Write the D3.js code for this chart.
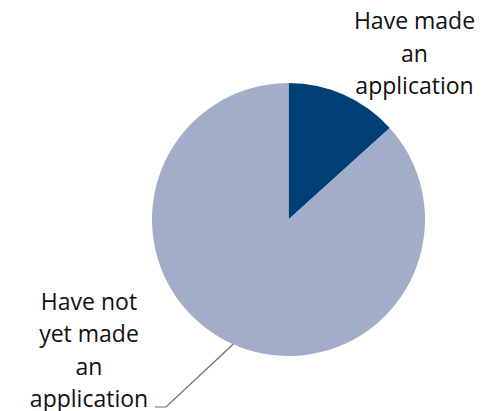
<!DOCTYPE html>
<html>
<head>
<meta charset="utf-8">
<script src="https://cdn.jsdelivr.net/npm/d3@7/dist/d3.min.js"></script>
<style>
  html, body { margin: 0; padding: 0; background: #ffffff; }
  svg { display: block; }
  text { font-family: "Open Sans", "Noto Sans", sans-serif; font-size: 23px; fill: #111111; }
</style>
</head>
<body>
<svg id="chart" width="493" height="411"></svg>
<script>
// Share of respondents by application status (percent)
const categories = ["Have made an application", "Have not yet made an application"];
const values = [13.3, 86.7];
const labelLines = [
  ["Have made", "an", "application"],
  ["Have not", "yet made", "an", "application"]
];
const colors = ["#004077", "#a2adca"];

const svg = d3.select("#chart");
const cx = 288.5, cy = 219.5, radius = 136.5;

const pie = d3.pie().sort(null).value(d => d.value).startAngle(0).endAngle(2 * Math.PI);
const arcs = pie(categories.map((c, i) => ({ name: c, value: values[i] })));
const arc = d3.arc().innerRadius(0).outerRadius(radius);

const g = svg.append("g").attr("transform", `translate(${cx},${cy})`);
g.selectAll("path.slice")
  .data(arcs)
  .join("path")
  .attr("class", "slice")
  .attr("d", arc)
  .attr("fill", (d, i) => colors[i]);

// Label placement (centre x, first baseline y) and leader line elbow for each slice
const lineHeight = 32.5;
const labelPos = [
  { x: 414.5, y: 29, leader: null },
  { x: 89, y: 309.5, leader: { elbow: [166, 407], end: [155, 407] } }
];

arcs.forEach((d, i) => {
  const pos = labelPos[i];
  const t = svg.append("text")
    .attr("text-anchor", "middle")
    .attr("x", pos.x)
    .attr("y", pos.y);
  labelLines[i].forEach((line, j) => {
    t.append("tspan").attr("x", pos.x).attr("y", pos.y + j * lineHeight).text(line);
  });
  if (pos.leader) {
    const mid = (d.startAngle + d.endAngle) / 2;
    const sx = cx + radius * Math.sin(mid);
    const sy = cy - radius * Math.cos(mid);
    svg.append("polyline")
      .attr("points", [[sx, sy], pos.leader.elbow, pos.leader.end].map(p => p.join(",")).join(" "))
      .attr("fill", "none")
      .attr("stroke", "#6b6b6b")
      .attr("stroke-width", 1.2);
  }
});
</script>
</body>
</html>
